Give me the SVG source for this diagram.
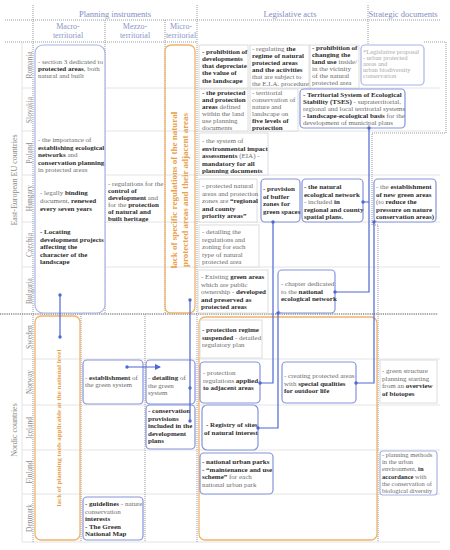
<svg xmlns="http://www.w3.org/2000/svg" width="450" height="550" viewBox="0 0 450 550">
<defs>
<style>
text{font-family:"Liberation Serif","Times New Roman",serif;}
.t{font-size:7px;fill:#6b6b6b}
.s{font-size:6.5px}
.b{font-weight:bold;fill:#2e2e2e}
.lg{fill:#a8a8a8}
.h{font-size:8.5px;fill:#7f8cc4;text-anchor:middle}
.sh{font-size:8px;fill:#8a95c8;text-anchor:middle}
.c{font-size:7.5px;fill:#8a8a8a;text-anchor:middle}
.grp{font-size:8px;fill:#8a8a8a;text-anchor:middle}
.o{font-size:7px;font-weight:bold;fill:#e8a04a;text-anchor:middle}
.bx{fill:#fff;stroke:#8494dc;stroke-width:1.2}
.bl{fill:#fff;stroke:#a9b4e6;stroke-width:1.2}
.gx{fill:#fff;stroke:#dcdcdc;stroke-width:1}
.ox{fill:none;stroke:#f0b36c;stroke-width:1.3}
.dl{fill:none;stroke:#9a9a9a;stroke-width:1;stroke-dasharray:1 1}
.dk{fill:none;stroke:#8a8a8a;stroke-width:1.3;stroke-dasharray:1.2 1}
.rl{stroke:#e4e4e4;stroke-width:1}
.cn{fill:none;stroke:#4f67d2;stroke-width:1.2}
.dot{fill:#4f67d2}
</style>
<marker id="ar" viewBox="0 0 6 6" refX="5" refY="3" markerWidth="5" markerHeight="5" orient="auto">
<path d="M0,0 L6,3 L0,6 z" fill="#4f67d2"/>
</marker>
</defs>
<rect width="450" height="550" fill="#fff"/>

<g id="grid">
<line x1="22" y1="42" x2="22" y2="542" class="rl"/>
<line x1="22" y1="88" x2="440" y2="88" class="rl"/>
<line x1="22" y1="131" x2="440" y2="131" class="rl"/>
<line x1="22" y1="175" x2="440" y2="175" class="rl"/>
<line x1="22" y1="222" x2="440" y2="222" class="rl"/>
<line x1="22" y1="267" x2="440" y2="267" class="rl"/>
<line x1="22" y1="359" x2="440" y2="359" class="rl"/>
<line x1="22" y1="405" x2="440" y2="405" class="rl"/>
<line x1="22" y1="450" x2="440" y2="450" class="rl"/>
<line x1="22" y1="494" x2="440" y2="494" class="rl"/>
<line x1="22" y1="542" x2="440" y2="542" class="rl"/>
<line x1="33" y1="5" x2="33" y2="542" class="dl"/>
<line x1="105" y1="20" x2="105" y2="314" class="dl"/>
<line x1="165" y1="20" x2="165" y2="314" class="dl"/>
<line x1="197" y1="5" x2="197" y2="542" class="dl"/>
<line x1="81" y1="314" x2="81" y2="542" class="dl"/>
<line x1="145" y1="314" x2="145" y2="542" class="dl"/>
<path d="M368,5 V44 M424,42 H446 V133 H372 V225 H378 V542" class="dl"/>
<line x1="5" y1="20" x2="440" y2="20" class="dl"/>
<line x1="5" y1="42" x2="197" y2="42" class="dl"/>
<line x1="0" y1="314" x2="438" y2="314" class="dk"/>
</g>

<g id="headers">
<text class="h" x="115" y="17">Planning instruments</text>
<text class="h" x="290" y="17">Legislative acts</text>
<text class="h" x="403" y="17">Strategic documents</text>
<text class="sh" x="68" y="29">Macro-</text>
<text class="sh" x="68" y="38">territorial</text>
<text class="sh" x="135" y="29">Mezzo-</text>
<text class="sh" x="135" y="38">territorial</text>
<text class="sh" x="181" y="29">Micro-</text>
<text class="sh" x="181" y="38">territorial</text>
</g>

<g id="labels">
<text class="grp" transform="translate(17,180) rotate(-90)">East-European EU countries</text>
<text class="grp" transform="translate(17,430) rotate(-90)">Nordic countries</text>
<text class="c" transform="translate(32,65) rotate(-90)">Romania</text>
<text class="c" transform="translate(32,110) rotate(-90)">Slovakia</text>
<text class="c" transform="translate(32,153) rotate(-90)">Poland</text>
<text class="c" transform="translate(32,198) rotate(-90)">Hungary</text>
<text class="c" transform="translate(32,245) rotate(-90)">Czechia</text>
<text class="c" transform="translate(32,291) rotate(-90)">Bulgaria</text>
<text class="c" transform="translate(32,337) rotate(-90)">Sweden</text>
<text class="c" transform="translate(32,382) rotate(-90)">Norway</text>
<text class="c" transform="translate(32,428) rotate(-90)">Iceland</text>
<text class="c" transform="translate(32,472) rotate(-90)">Finland</text>
<text class="c" transform="translate(32,518) rotate(-90)">Denmark</text>
</g>

<g id="macro-east">
<rect class="bl" x="35" y="45" width="70" height="268" rx="8"/>
<text class="t" x="38" y="63.5">- section 3 dedicated to</text>
<text class="t" x="38" y="70.5"><tspan class="b">protected areas</tspan>, both</text>
<text class="t" x="38" y="77.5">natural and built</text>
<text class="t" x="38" y="142">- the importance of</text>
<text class="t b" x="38" y="149.5">establishing ecological</text>
<text class="t" x="38" y="157"><tspan class="b">networks</tspan> and</text>
<text class="t b" x="38" y="164.5">conservation planning</text>
<text class="t" x="38" y="172">in protected areas</text>
<text class="t" x="40" y="195">- legally <tspan class="b">binding</tspan></text>
<text class="t" x="40" y="203">document, <tspan class="b">renewed</tspan></text>
<text class="t b" x="40" y="211">every seven years</text>
<text class="t b" x="40" y="234">- Locating</text>
<text class="t b" x="40" y="241.5">development projects</text>
<text class="t b" x="40" y="249">affecting the</text>
<text class="t b" x="40" y="256.5">character of the</text>
<text class="t b" x="40" y="264">landscape</text>
</g>

<g id="mezzo-east">
<text class="t" x="108" y="185.5">- regulations for the</text>
<text class="t b" x="108" y="192.6">control of</text>
<text class="t" x="108" y="199.7"><tspan class="b">development</tspan> and</text>
<text class="t" x="108" y="206.8">for the <tspan class="b">protection</tspan></text>
<text class="t b" x="108" y="213.9">of natural and</text>
<text class="t b" x="108" y="221">built heritage</text>
</g>

<g id="micro-east">
<rect class="ox" x="165" y="45" width="30" height="268" rx="6"/>
<text class="o" style="font-size:9px" transform="translate(177,190) rotate(-90)">lack of specific regulations of the natural<tspan x="0" dy="10.5">protected areas and their adjacent areas</tspan></text>
</g>

<g id="leg-romania">
<rect class="gx" x="199" y="45" width="49" height="43"/>
<text class="t b" x="202" y="53.5">- prohibition of</text>
<text class="t b" x="202" y="60.8">developments</text>
<text class="t b" x="202" y="68.1">that depreciate</text>
<text class="t b" x="202" y="75.4">the value of</text>
<text class="t b" x="202" y="82.7">the landscape</text>
<rect class="gx" x="250" y="45" width="59" height="43"/>
<text class="t" x="252" y="50.5">- regulating <tspan class="b">the</tspan></text>
<text class="t b" x="252" y="57.6">regime of natural</text>
<text class="t b" x="252" y="64.7">protected  areas</text>
<text class="t b" x="252" y="71.8">and the activities</text>
<text class="t" x="252" y="78.9">that are subject to</text>
<text class="t" x="252" y="86">the E.I.A. procedure</text>
<rect class="gx" x="310" y="45" width="49" height="43"/>
<text class="t b" x="312" y="49.5">- prohibition of</text>
<text class="t b" x="312" y="56.6">changing the</text>
<text class="t" x="312" y="63.7"><tspan class="b">land use</tspan> inside/</text>
<text class="t" x="312" y="70.8">in the vicinity</text>
<text class="t" x="312" y="77.9">of the natural</text>
<text class="t" x="312" y="85">protected area</text>
</g>

<g id="strat-romania">
<rect class="bl" x="361" y="45" width="63" height="40" rx="4"/>
<text class="t s lg" x="363" y="54">*Legislative proposal</text>
<text class="t s lg" x="363" y="60.1">- urban protected</text>
<text class="t s lg" x="363" y="66.2">areas and</text>
<text class="t s lg" x="363" y="72.3">urban biodiversity</text>
<text class="t s lg" x="363" y="78.4">conservation</text>
</g>

<g id="leg-slovakia">
<rect class="gx" x="199" y="89" width="49" height="42"/>
<text class="t b" x="202" y="94.5">- the protected</text>
<text class="t b" x="202" y="101.5">and protection</text>
<text class="t" x="202" y="108.5"><tspan class="b">areas</tspan> defined</text>
<text class="t" x="202" y="115.5">within the land</text>
<text class="t" x="202" y="122.5">use planning</text>
<text class="t" x="202" y="129.5">documents</text>
<rect class="gx" x="250" y="89" width="48" height="42"/>
<text class="t" x="252" y="94.5">- territorial</text>
<text class="t" x="252" y="101.5">conservation of</text>
<text class="t" x="252" y="108.5">nature and</text>
<text class="t" x="252" y="115.5">landscape on</text>
<text class="t b" x="252" y="122.5">five levels of</text>
<text class="t b" x="252" y="129.5">protection</text>
</g>

<g id="tses">
<rect class="bx" x="300" y="89" width="105" height="39" rx="4"/>
<text class="t b" x="303" y="97">- Territorial System of Ecological</text>
<text class="t" x="303" y="104"><tspan class="b">Stability (TSES)</tspan> - supraterritorial,</text>
<text class="t" x="303" y="111">regional and local territorial systems</text>
<text class="t" x="303" y="118"><tspan class="b">- landscape-ecological basis</tspan> for the</text>
<text class="t" x="303" y="125">development of municipal plans</text>
</g>

<g id="leg-poland">
<rect class="gx" x="199" y="133" width="69" height="42"/>
<text class="t" x="202" y="143">- the system of</text>
<text class="t b" x="202" y="150.6">environmental impact</text>
<text class="t" x="202" y="158.2"><tspan class="b">assessments</tspan> (EIA) -</text>
<text class="t b" x="202" y="165.8">mandatory for all</text>
<text class="t b" x="202" y="173.4">planning documents</text>
</g>

<g id="leg-hungary">
<rect class="gx" x="199" y="179" width="58" height="43"/>
<text class="t" x="202" y="188">- protected natural</text>
<text class="t" x="202" y="195.5">areas and protection</text>
<text class="t" x="202" y="203">zones are <tspan class="b">“regional</tspan></text>
<text class="t b" x="202" y="210.5">and county</text>
<text class="t b" x="202" y="218">priority areas”</text>
</g>
<g id="buffer">
<rect class="bx" x="261" y="179" width="39" height="43" rx="4"/>
<text class="t b" x="263" y="191">- provision</text>
<text class="t b" x="263" y="198.5">of buffer</text>
<text class="t b" x="263" y="206">zones for</text>
<text class="t b" x="263" y="213.5">green spaces</text>
</g>
<g id="natnet">
<rect class="bx" x="302" y="179" width="61" height="43" rx="4"/>
<text class="t b" x="304" y="189">- the natural</text>
<text class="t b" x="304" y="196.5">ecological network</text>
<text class="t" x="304" y="204">- included <tspan class="b">in</tspan></text>
<text class="t b" x="304" y="211.5">regional and county</text>
<text class="t b" x="304" y="219">spatial plans.</text>
</g>
<g id="newgreen">
<rect class="bx" x="374" y="179" width="62" height="43" rx="4"/>
<text class="t" x="376" y="189">- the <tspan class="b">establishment</tspan></text>
<text class="t b" x="376" y="196.5">of new green areas</text>
<text class="t" x="376" y="204">(to <tspan class="b">reduce the</tspan></text>
<text class="t b" x="376" y="211.5">pressure on nature</text>
<text class="t b" x="376" y="219">conservation areas)</text>
</g>

<g id="leg-czechia">
<rect class="gx" x="199" y="225" width="60" height="42"/>
<text class="t" x="202" y="234">- detailing the</text>
<text class="t" x="202" y="241.5">regulations and</text>
<text class="t" x="202" y="249">zoning for each</text>
<text class="t" x="202" y="256.5">type of natural</text>
<text class="t" x="202" y="264">protected area</text>
</g>

<g id="leg-bulgaria">
<rect class="gx" x="198" y="270" width="70" height="43"/>
<text class="t" x="201" y="279">- Existing <tspan class="b">green areas</tspan></text>
<text class="t" x="201" y="286.6">which are public</text>
<text class="t" x="201" y="294.2">ownership - <tspan class="b">developed</tspan></text>
<text class="t b" x="201" y="301.8">and preserved as</text>
<text class="t b" x="201" y="309.4">protected areas</text>
</g>
<g id="chapter">
<rect class="bx" x="278" y="270" width="57" height="43" rx="4"/>
<text class="t" x="281" y="286">- chapter dedicated</text>
<text class="t" x="281" y="293.5">to the <tspan class="b">national</tspan></text>
<text class="t b" x="281" y="301">ecological network</text>
</g>

<g id="macro-nordic">
<rect class="ox" x="35" y="316" width="45" height="224" rx="6"/>
<text class="o" transform="translate(61,428) rotate(-90)">lack of planning tools applicable at the national level</text>
</g>

<g id="green-system">
<rect class="bx" x="83" y="360" width="60" height="44" rx="4"/>
<text class="t" x="85" y="380">- <tspan class="b">establishment</tspan> of</text>
<text class="t" x="85" y="387">the green system</text>
</g>
<g id="detailing">
<rect class="bx" x="146" y="360" width="49" height="44" rx="4"/>
<text class="t" x="148" y="380">- <tspan class="b">detailing</tspan> of</text>
<text class="t" x="148" y="387.5">the green</text>
<text class="t" x="148" y="395">system</text>
</g>
<g id="conservation">
<rect class="bx" x="146" y="405" width="49" height="44" rx="4"/>
<text class="t b" x="148" y="413">- conservation</text>
<text class="t b" x="148" y="420.5">provisions</text>
<text class="t b" x="148" y="428">included in the</text>
<text class="t b" x="148" y="435.5">development</text>
<text class="t b" x="148" y="443">plans</text>
</g>
<g id="guidelines">
<rect class="bx" x="83" y="497" width="60" height="43" rx="4"/>
<text class="t" x="85" y="506"><tspan class="b">- guidelines</tspan> - nature</text>
<text class="t" x="85" y="513.5">conservation</text>
<text class="t b" x="85" y="521">interests</text>
<text class="t b" x="85" y="528.5">- The Green</text>
<text class="t b" x="85" y="536">National Map</text>
</g>

<g id="leg-nordic">
<rect class="ox" x="199" y="317" width="178" height="223" rx="6"/>
<rect class="gx" x="200" y="320" width="62" height="38"/>
<text class="t b" x="202" y="332">- protection regime</text>
<text class="t" x="202" y="339.5"><tspan class="b">suspended</tspan> - detailed</text>
<text class="t" x="202" y="347">regulatory plan</text>
</g>
<g id="applied">
<rect class="bx" x="200" y="362" width="60" height="41" rx="4"/>
<text class="t" x="203" y="375">- protection</text>
<text class="t" x="203" y="382.5">regulations <tspan class="b">applied</tspan></text>
<text class="t b" x="203" y="390">to adjacent areas</text>
</g>
<g id="outdoor">
<rect class="bx" x="282" y="362" width="74" height="41" rx="4"/>
<text class="t" x="284" y="378">- creating protected areas</text>
<text class="t" x="284" y="385.5">with <tspan class="b">special qualities</tspan></text>
<text class="t b" x="284" y="393">for outdoor life</text>
</g>
<g id="registry">
<rect class="bx" x="202" y="405" width="56" height="45" rx="5"/>
<text class="t b" x="206" y="427">- Registry of sites</text>
<text class="t b" x="204" y="434.5">of natural interest</text>
</g>
<g id="parks">
<rect class="bx" x="200" y="453" width="73" height="41" rx="4"/>
<text class="t b" x="202" y="464">- national urban parks</text>
<text class="t" x="202" y="471.5"><tspan class="b">- “maintenance and use</tspan></text>
<text class="t" x="202" y="479"><tspan class="b">scheme”</tspan> for each</text>
<text class="t" x="202" y="486.5">national urban park</text>
</g>

<g id="biotopes">
<rect class="gx" x="380" y="360" width="57" height="43"/>
<text class="t" x="382" y="373">- green structure</text>
<text class="t" x="382" y="380.5">planning starting</text>
<text class="t" x="382" y="388">from an <tspan class="b">overview</tspan></text>
<text class="t b" x="382" y="395.5">of biotopes</text>
</g>
<g id="biodiversity">
<rect class="bl" x="380" y="451" width="57" height="44" rx="3"/>
<text class="t s" x="382" y="457">- planning methods</text>
<text class="t s" x="382" y="464.2">in the urban</text>
<text class="t s" x="382" y="471.4">environment, <tspan class="b">in</tspan></text>
<text class="t s" x="382" y="478.6"><tspan class="b">accordance</tspan> with</text>
<text class="t s" x="382" y="485.8">the conservation of</text>
<text class="t s" x="382" y="493">biological diversity</text>
</g>

<g id="connectors">
<path class="cn" d="M369,128 V292 H335 M369,202 H363"/>
<path class="cn" d="M374,222 V383 H356"/>
<path class="cn" d="M273,222 V383 H260"/>
<path class="cn" d="M278,313 V428 H258"/>
<path class="cn" d="M60,295 V337"/>
<path class="cn" d="M190,300 V421"/>
<path class="cn" d="M127,367 H160" marker-end="url(#ar)"/>
<circle class="dot" cx="369" cy="128" r="1.7"/>
<circle class="dot" cx="335" cy="292" r="1.7"/>
<circle class="dot" cx="363" cy="202" r="1.7"/>
<circle class="dot" cx="374" cy="222" r="1.7"/>
<circle class="dot" cx="356" cy="383" r="1.7"/>
<circle class="dot" cx="273" cy="222" r="1.7"/>
<circle class="dot" cx="260" cy="383" r="1.7"/>
<circle class="dot" cx="278" cy="313" r="1.7"/>
<circle class="dot" cx="258" cy="428" r="1.7"/>
<circle class="dot" cx="60" cy="295" r="1.7"/>
<circle class="dot" cx="60" cy="337" r="1.7"/>
<circle class="dot" cx="190" cy="300" r="1.7"/>
<circle class="dot" cx="190" cy="388" r="1.7"/>
<circle class="dot" cx="190" cy="421" r="1.7"/>
<circle class="dot" cx="127" cy="367" r="1.7"/>
</g>
</svg>
